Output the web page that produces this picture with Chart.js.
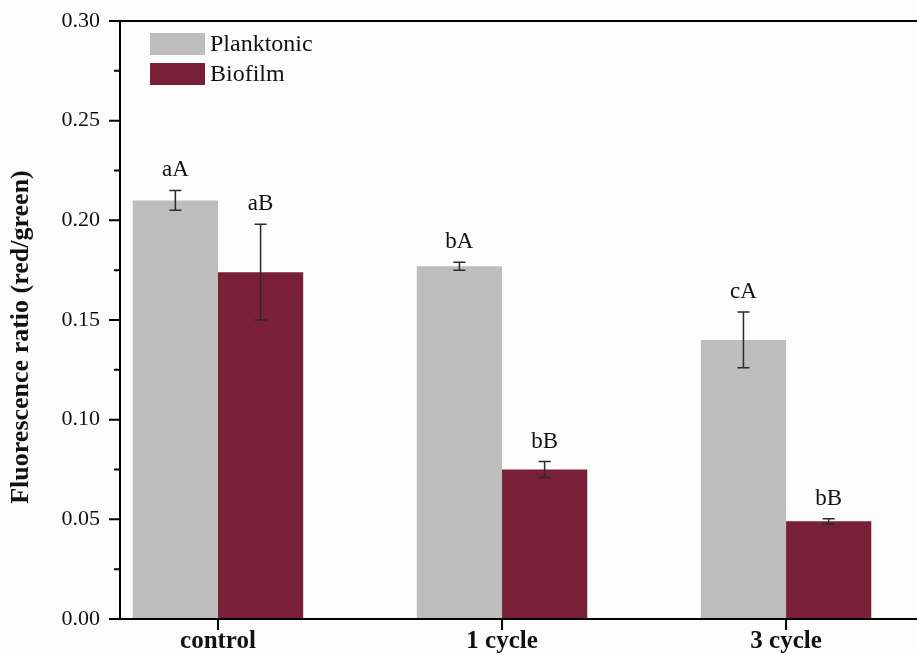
<!DOCTYPE html>
<html>
<head>
<meta charset="utf-8">
<script src="https://cdn.jsdelivr.net/npm/chart.js@4/dist/chart.umd.min.js"></script>
<style>
  html, body { margin: 0; padding: 0; background: #fcfcfc; }
  #wrap { width: 917px; height: 655px; }
</style>
</head>
<body>
<div id="wrap"><canvas id="c" width="917" height="655"></canvas></div>
<script>
// Fluorescence ratio (red/green) per treatment
const categories = ['control', '1 cycle', '3 cycle'];
const planktonic = [0.210, 0.177, 0.140];
const planktonicErr = [0.005, 0.002, 0.014];
const biofilm = [0.174, 0.075, 0.049];
const biofilmErr = [0.024, 0.004, 0.0013];
const planktonicLetters = ['aA', 'bA', 'cA'];
const biofilmLetters = ['aB', 'bB', 'bB'];
const yTickValues = [0.00, 0.05, 0.10, 0.15, 0.20, 0.25, 0.30];
const yTitle = 'Fluorescence ratio (red/green)';

const GREY = '#bdbdbd';
const WINE = '#7a1f38';
const SERIF = '"Liberation Serif", "Times New Roman", serif';

const frame = {
  id: 'frame',
  afterDatasetsDraw(chart) {
    const ctx = chart.ctx;
    const xs = chart.scales.x, ys = chart.scales.y;
    const area = chart.chartArea;
    ctx.save();

    // error bars and significance letters
    const groups = [
      { meta: chart.getDatasetMeta(0), vals: planktonic, errs: planktonicErr, letters: planktonicLetters },
      { meta: chart.getDatasetMeta(1), vals: biofilm, errs: biofilmErr, letters: biofilmLetters }
    ];
    groups.forEach(g => {
      g.meta.data.forEach((bar, i) => {
        const x = bar.x;
        const yHi = ys.getPixelForValue(g.vals[i] + g.errs[i]);
        const yLo = ys.getPixelForValue(g.vals[i] - g.errs[i]);
        ctx.strokeStyle = '#2a2a2a';
        ctx.lineWidth = 1.5;
        ctx.beginPath();
        ctx.moveTo(x, yHi); ctx.lineTo(x, yLo);
        ctx.moveTo(x - 6, yHi); ctx.lineTo(x + 6, yHi);
        ctx.moveTo(x - 6, yLo); ctx.lineTo(x + 6, yLo);
        ctx.stroke();
        ctx.fillStyle = '#111';
        ctx.font = '23px ' + SERIF;
        ctx.textAlign = 'center';
        ctx.textBaseline = 'alphabetic';
        ctx.fillText(g.letters[i], x, yHi - 14);
      });
    });

    // axis frame
    ctx.strokeStyle = '#000';
    ctx.lineWidth = 2;
    ctx.beginPath();
    ctx.moveTo(area.left, area.top); ctx.lineTo(area.left, area.bottom + 1);
    ctx.moveTo(area.left - 11, area.bottom); ctx.lineTo(chart.width, area.bottom);
    ctx.moveTo(area.left - 11, area.top); ctx.lineTo(chart.width, area.top);
    ctx.stroke();

    // y major and minor ticks
    ctx.lineWidth = 2;
    ctx.beginPath();
    yTickValues.forEach((v, i) => {
      const y = ys.getPixelForValue(v);
      ctx.moveTo(area.left - 11, y); ctx.lineTo(area.left, y);
      if (i < yTickValues.length - 1) {
        const ym = ys.getPixelForValue(v + 0.025);
        ctx.moveTo(area.left - 6, ym); ctx.lineTo(area.left, ym);
      }
    });
    // x ticks at category centres
    categories.forEach((c, i) => {
      const x = xs.getPixelForValue(i);
      ctx.moveTo(x, area.bottom); ctx.lineTo(x, area.bottom + 11);
    });
    ctx.stroke();

    // y axis title
    ctx.save();
    ctx.translate(21, 337);
    ctx.rotate(-Math.PI / 2);
    ctx.fillStyle = '#111';
    ctx.font = 'bold 26px ' + SERIF;
    ctx.textAlign = 'center';
    ctx.textBaseline = 'middle';
    ctx.fillText(yTitle, 0, 0);
    ctx.restore();

    // legend
    const entries = [
      { label: chart.data.datasets[0].label, color: GREY },
      { label: chart.data.datasets[1].label, color: WINE }
    ];
    ctx.font = '24px ' + SERIF;
    ctx.textAlign = 'left';
    ctx.textBaseline = 'middle';
    entries.forEach((e, i) => {
      const y = 33 + i * 30;
      ctx.fillStyle = e.color;
      ctx.fillRect(150, y, 55, 22);
      ctx.fillStyle = '#111';
      ctx.fillText(e.label, 210, y + 12);
    });

    ctx.restore();
  }
};

new Chart(document.getElementById('c'), {
  type: 'bar',
  plugins: [frame],
  data: {
    datasets: [
      {
        label: 'Planktonic',
        data: planktonic.map((v, i) => ({ x: i, y: v })),
        backgroundColor: GREY,
        borderWidth: 0
      },
      {
        label: 'Biofilm',
        data: biofilm.map((v, i) => ({ x: i, y: v })),
        backgroundColor: WINE,
        borderWidth: 0
      }
    ]
  },
  options: {
    responsive: false,
    animation: false,
    devicePixelRatio: 1,
    categoryPercentage: 0.6,
    barPercentage: 1.0,
    layout: { padding: { top: 21, right: 0, left: 0, bottom: 0 } },
    plugins: {
      legend: { display: false },
      tooltip: { enabled: false }
    },
    scales: {
      x: {
        type: 'linear',
        min: -0.345,
        max: 2.461,
        offset: false,
        grid: { display: false, drawTicks: false },
        border: { display: false },
        afterBuildTicks: s => { s.ticks = categories.map((_, i) => ({ value: i })); },
        afterFit: s => { s.height = 36; s.paddingLeft = 0; s.paddingRight = 0; },
        ticks: {
          autoSkip: false,
          maxRotation: 0,
          padding: 8,
          color: '#111',
          font: { family: SERIF, size: 25, weight: 'bold' },
          callback: v => categories[v] ?? ''
        }
      },
      y: {
        min: 0,
        max: 0.30,
        grid: { display: false, drawTicks: false },
        border: { display: false },
        afterBuildTicks: s => { s.ticks = yTickValues.map(v => ({ value: v })); },
        afterFit: s => { s.width = 120; s.paddingTop = 0; s.paddingBottom = 0; },
        ticks: {
          padding: 20,
          color: '#111',
          font: { family: SERIF, size: 22 },
          callback: v => Number(v).toFixed(2)
        }
      }
    }
  }
});
</script>
</body>
</html>
